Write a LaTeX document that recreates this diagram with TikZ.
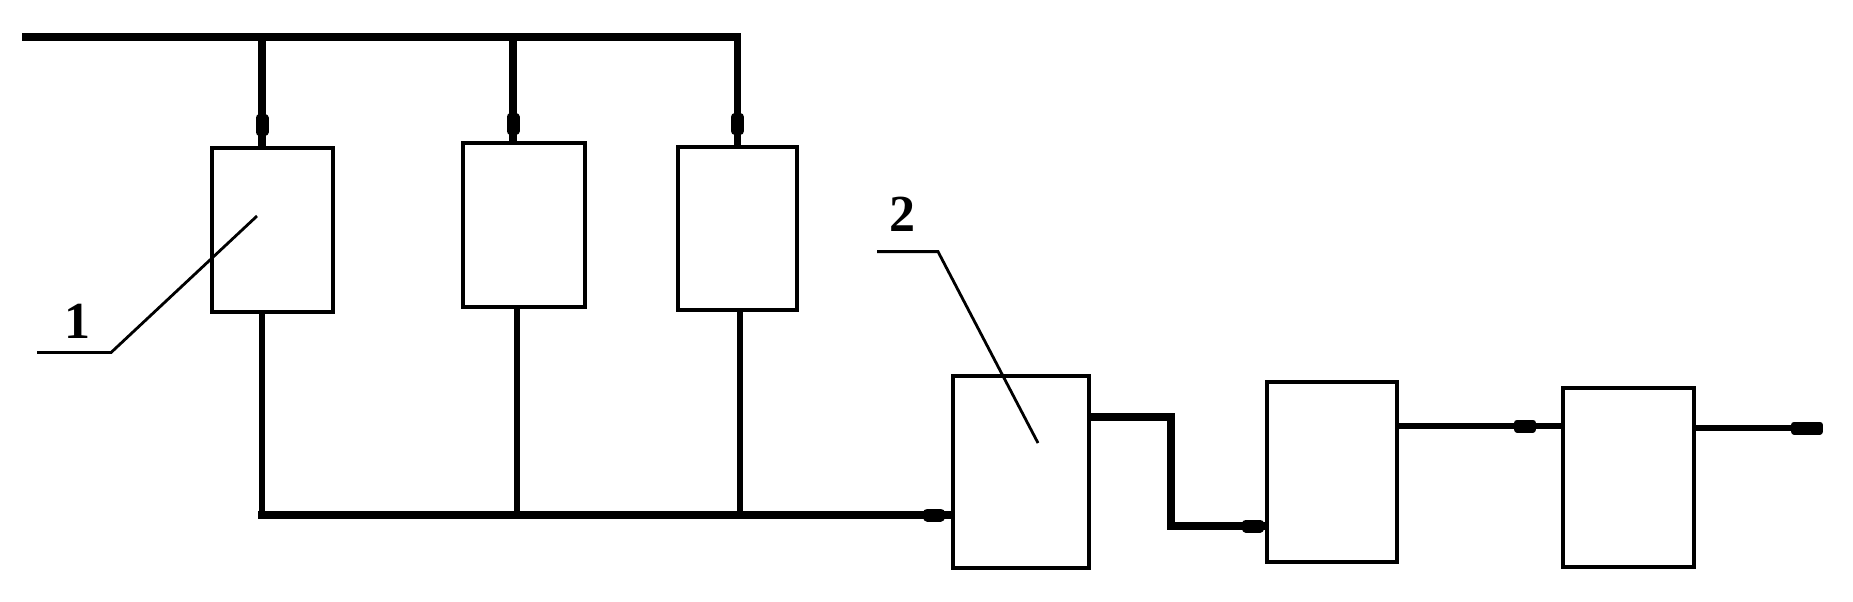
\documentclass[tikz,border=0pt]{standalone}
\usepackage{fontspec}
\setmainfont{Liberation Serif}
\usetikzlibrary{arrows.meta}

\begin{document}
\begin{tikzpicture}[x=0.5pt,y=-0.5pt,
      unit/.style={draw,line width=2pt,inner sep=0pt},
      bus/.style={line width=3.8pt},
      wire/.style={line width=3.2pt},
      leader/.style={line width=1.4pt},
      tag/.style={font=\fontsize{26}{30}\selectfont\bfseries,inner sep=0pt},
      blob/.style={-{Rectangle[round,length=11pt,width=6.5pt]},shorten >=#1}]
            \useasboundingbox (0,0) rectangle (1853,601);

            % units
            \node [unit,minimum width=60.5pt,minimum height=82pt] (r1) at (272.5,230) {};
            \node [unit,minimum width=61pt,minimum height=82pt] (r2) at (524,225) {};
            \node [unit,minimum width=59.5pt,minimum height=81.5pt] (r3) at (737.5,228.5) {};
            \node [unit,minimum width=68pt,minimum height=96pt] (r4) at (1021,472) {};
            \node [unit,minimum width=65pt,minimum height=90pt] (r5) at (1332,472) {};
            \node [unit,minimum width=65.5pt,minimum height=89.5pt] (r6) at (1628.5,477.5) {};

            % top feed
            \coordinate (feed) at (22,37);
            \coordinate (j1) at (262,37);
            \coordinate (j2) at (513,37);
            \draw [bus] 
               (feed) -- (feed -| r3.north) -- (r3.north);
            \draw [bus] (j1) -- (j1 |- r1.north);
            \draw [bus] (j2) -- (j2 |- r2.north);
            \draw [bus,blob=5pt] (j1) -- (j1 |- r1.north);
            \draw [bus,blob=3pt] (j2) -- (j2 |- r2.north);
            \draw [bus,blob=5pt] (feed -| r3.north) -- (r3.north);

            % collector
            \coordinate (m) at (262,515);
            \draw [wire] 
               (j1 |- r1.south) -- (m);
            \draw [wire] 
               ([xshift=-3.5pt]r2.south) coordinate (d2) -- (d2 |- m);
            \draw [wire] 
               ([xshift=1.2pt]r3.south) coordinate (d3) -- (d3 |- m);
            \draw [bus,line width=4.4pt,line cap=rect] (m) -- (m -| r4.west);
            \draw [bus,line width=4.4pt,blob=3pt] (m) -- (m -| r4.west);

            % chain
            \coordinate (bend) at (1171,526);
            \draw [bus] 
               ([yshift=27.5pt]r4.east) -| (bend) -- (bend -| r5.west);
            \draw [bus,blob=0.5pt] (bend) -- (bend -| r5.west);
            \draw [wire] 
               ([yshift=23pt]r5.east) coordinate (c5) -- (c5 -| r6.west);
            \draw [wire,blob=12.5pt] (c5) -- (c5 -| r6.west);
            \coordinate (out) at (1823,428);
            \draw [wire,-{Rectangle[round,length=16pt,width=6.5pt]}] 
               ([yshift=24.75pt]r6.east) coordinate (c6) -- (c6 -| out);

            % reference marks
            \node [tag] (n1) at (77,321) {1};
            \coordinate (p1) at (257,216);
            \draw [leader] 
               ([xshift=-20pt,yshift=-7pt]n1.south) -- ++(37pt,0) -- (p1);
            \node [tag] (n2) at (902,214) {2};
            \coordinate (p2) at (1038,443);
            \draw [leader] 
               ([xshift=-12.5pt,yshift=-10pt]n2.south) -- ++(30.5pt,0) -- (p2);
         \end{tikzpicture}
\end{document}
